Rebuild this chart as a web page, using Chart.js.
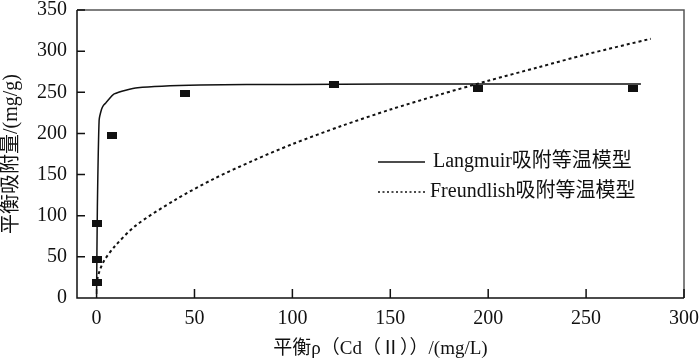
<!DOCTYPE html>
<html>
<head>
<meta charset="utf-8">
<script src="https://cdn.jsdelivr.net/npm/chart.js@4.4.1/dist/chart.umd.min.js"></script>
<style>
  html, body { margin: 0; padding: 0; background: #fff; }
  #wrap { width: 700px; height: 362px; }
</style>
</head>
<body>
<div id="wrap"><canvas id="chart"></canvas></div>
<script>
// measured points
const measuredC = [0, 0, 0, 8, 45, 121, 195, 274];
const measuredQ = [19, 47, 90, 198, 248, 259, 255, 255];

// fitted curves
const langmuirC = [0, 0.4, 1.3, 2.5, 3.5, 4.7, 9, 21, 53, 100, 150, 200, 278];
const langmuirQ = [5, 110, 216, 229, 234, 237, 248, 255.6, 258.9, 259.5, 260, 260, 260];

const freundC = [0.3, 1, 2, 4, 9, 20, 40, 60, 80, 100, 125, 150, 175, 200, 225, 250, 283];
const freundQ = [22, 29, 36, 46, 62, 88, 119, 145, 167, 187, 209, 229, 247, 264, 280, 296, 315];

const seriesNames = ['Langmuir吸附等温模型', 'Freundlish吸附等温模型'];
const xTicks = [0, 50, 100, 150, 200, 250, 300];
const yTicks = [0, 50, 100, 150, 200, 250, 300, 350];

const FONT = "'Liberation Serif', 'Noto Sans CJK SC', serif";
const INK = '#111';

const toXY = (xs, ys) => xs.map((x, i) => ({ x, y: ys[i] }));

// wide black block marker
const marker = document.createElement('canvas');
marker.width = 10;
marker.height = 7;
const mctx = marker.getContext('2d');
mctx.fillStyle = '#111';
mctx.fillRect(0, 0, 10, 7);

/* box, inward ticks */
const frame = {
    id: 'frame',
    beforeDatasetsDraw(chart) {
        const { ctx, chartArea: a, scales: { x, y } } = chart;
        ctx.save();
        ctx.strokeStyle = '#555';
        ctx.lineWidth = 1.5;
        ctx.beginPath();
        ctx.moveTo(a.left, a.top);
        ctx.lineTo(a.right, a.top);
        ctx.lineTo(a.right, a.bottom);
        ctx.stroke();

        ctx.strokeStyle = INK;
        ctx.beginPath();
        ctx.moveTo(a.left, a.top);
        ctx.lineTo(a.left, a.bottom);
        ctx.lineTo(a.right, a.bottom);
        yTicks.forEach(v => {
            const py = y.getPixelForValue(v);
            ctx.moveTo(a.left, py);
            ctx.lineTo(a.left + 8, py);
        });
        xTicks.forEach(v => {
            const px = x.getPixelForValue(v);
            ctx.moveTo(px, a.bottom);
            ctx.lineTo(px, a.bottom - 9);
        });
        ctx.stroke();
        ctx.restore();
    }
};

/* legend inside the plot */
const legendBox = {
    id: 'legendBox',
    afterDraw(chart) {
        const { ctx, chartArea: a } = chart;
        const x0 = a.left + 301, x1 = a.left + 348, tx = a.left + 356;
        const rows = [a.top + 152, a.top + 182];
        ctx.save();
        ctx.font = '20px ' + FONT;
        ctx.fillStyle = INK;
        ctx.textBaseline = 'middle';
        rows.forEach((ry, i) => {
            ctx.strokeStyle = INK;
            ctx.lineWidth = i === 0 ? 1.5 : 1.5;
            ctx.setLineDash(i === 0 ? [] : [2, 2.5]);
            ctx.beginPath();
            ctx.moveTo(x0, ry);
            ctx.lineTo(x1, ry);
            ctx.stroke();
            ctx.fillText(seriesNames[i], i === 0 ? tx : tx - 3, ry);
        });
        ctx.restore();
    }
};

new Chart(document.getElementById('chart'), {
    type: 'scatter',
    data: {
        datasets: [
            {
                label: 'measured',
                data: toXY(measuredC, measuredQ),
                pointStyle: marker,
                pointRadius: 5,
                order: 0
            },
            {
                label: seriesNames[0],
                type: 'line',
                data: toXY(langmuirC, langmuirQ),
                borderColor: INK,
                borderWidth: 1.5,
                pointRadius: 0,
                tension: 0.2,
                fill: false,
                order: 2
            },
            {
                label: seriesNames[1],
                type: 'line',
                data: toXY(freundC, freundQ),
                borderColor: INK,
                borderWidth: 2,
                borderDash: [3, 3],
                pointRadius: 0,
                tension: 0.3,
                fill: false,
                order: 1
            }
        ]
    },
    options: {
        responsive: true,
        maintainAspectRatio: false,
        animation: false,
        devicePixelRatio: 1,
        layout: { padding: { top: 10, right: 16, left: 0, bottom: 0 } },
        plugins: {
            legend: { display: false },
            tooltip: { enabled: false }
        },
        scales: {
            x: {
                type: 'linear',
                min: -10,
                max: 300,
                afterBuildTicks: s => { s.ticks = xTicks.map(v => ({ value: v })); },
                afterFit: s => { s.height = 64; s.paddingLeft = 0; s.paddingRight = 0; },
                grid: { display: false, drawTicks: false },
                border: { display: false },
                ticks: {
                    padding: 9,
                    maxRotation: 0,
                    color: INK,
                    font: { family: FONT, size: 20 }
                },
                title: {
                    display: true,
                    text: '平衡ρ（Cd（Ⅱ））/(mg/L)',
                    color: INK,
                    font: { family: FONT, size: 19 },
                    padding: { top: 0, bottom: 2 }
                }
            },
            y: {
                type: 'linear',
                min: 0,
                max: 350,
                afterBuildTicks: s => { s.ticks = yTicks.map(v => ({ value: v })); },
                afterFit: s => { s.width = 77; s.paddingTop = 0; s.paddingBottom = 0; },
                grid: { display: false, drawTicks: false },
                border: { display: false },
                ticks: {
                    padding: 10,
                    color: INK,
                    font: { family: FONT, size: 20 }
                },
                title: {
                    display: true,
                    text: '平衡吸附量/(mg/g)',
                    color: INK,
                    font: { family: FONT, size: 20 },
                    padding: { top: 0, bottom: 0 }
                }
            }
        }
    },
    plugins: [frame, legendBox]
});
</script>
</body>
</html>
